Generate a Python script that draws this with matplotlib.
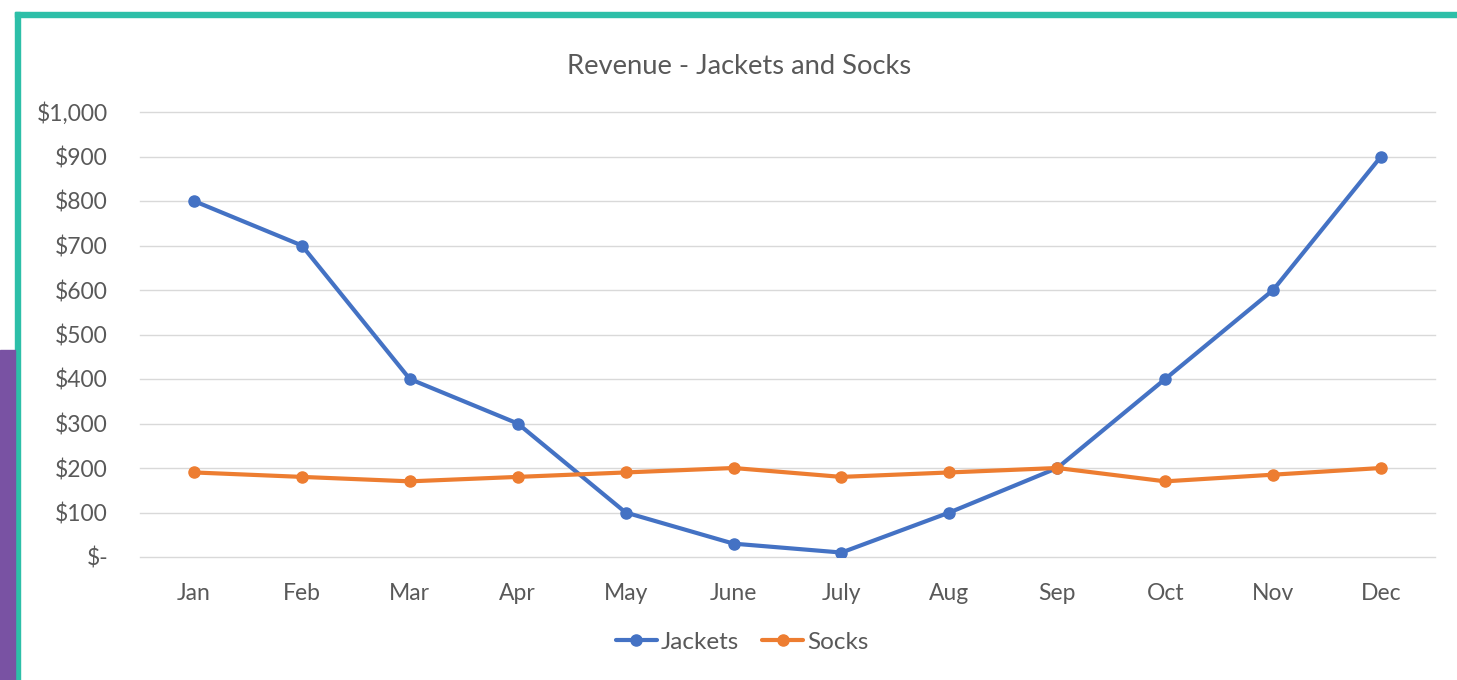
import matplotlib
matplotlib.use("Agg")
import matplotlib.pyplot as plt
from matplotlib.patches import Rectangle
from matplotlib.ticker import FuncFormatter

months = ["Jan", "Feb", "Mar", "Apr", "May", "June", "July", "Aug", "Sep", "Oct", "Nov", "Dec"]
jackets = [800, 700, 400, 300, 100, 30, 10, 100, 200, 400, 600, 900]
socks = [190, 180, 170, 180, 190, 200, 180, 190, 200, 170, 185, 200]
yticks = [0, 100, 200, 300, 400, 500, 600, 700, 800, 900, 1000]

plt.rcParams['font.family'] = ['Lato', 'DejaVu Sans']
W, H = 1457, 680
fig = plt.figure(figsize=(W / 100, H / 100), dpi=100)
fig.patch.set_facecolor("white")

# decorative borders
teal = "#2DBFA8"
purple = "#7952A3"
fig.patches.append(Rectangle((15 / W, 0), 5 / W, (H - 12) / H, transform=fig.transFigure,
                             color=teal, zorder=0))
fig.patches.append(Rectangle((15 / W, (H - 17) / H), (W - 15) / W, 5 / H, transform=fig.transFigure,
                             color=teal, zorder=0))
fig.patches.append(Rectangle((0, 0), 15 / W, (H - 350) / H, transform=fig.transFigure,
                             color=purple, zorder=0))

ax = fig.add_axes([140 / W, (H - 557) / H, (1435 - 140) / W, (557 - 112) / H])
ax.set_facecolor("none")
x = list(range(len(months)))
txt = "#595959"
ax.plot(x, jackets, color="#4472C4", lw=3, marker="o", ms=8, label="Jackets",
        solid_capstyle="round", zorder=3)
ax.plot(x, socks, color="#ED7D31", lw=3, marker="o", ms=8, label="Socks",
        solid_capstyle="round", zorder=3)

ax.set_xlim(-0.5, len(months) - 0.5)
ax.set_ylim(0, 1000)
ax.set_yticks(yticks)
ax.yaxis.set_major_formatter(FuncFormatter(lambda v, p: "$-" if v == 0 else f"${int(v):,}"))
ax.set_xticks(x)
ax.set_xticklabels(months)
ax.grid(axis="y", color="#D9D9D9", lw=1)
for gl in ax.get_ygridlines():
    gl.set_clip_on(False)
ax.set_axisbelow(True)
for s in ax.spines.values():
    s.set_visible(False)
ax.tick_params(axis="both", length=0, colors=txt, labelsize=16.5)
ax.tick_params(axis="y", pad=23)
ax.tick_params(axis="x", pad=19)

fig.text(739 / W, (H - 66) / H, "Revenue - Jackets and Socks", ha="center", va="center",
         fontsize=19.7, color=txt)

leg = fig.legend(loc="center", bbox_to_anchor=(742 / W, (H - 642) / H), ncol=2, frameon=False,
                 fontsize=17.5, handlelength=1.7, handletextpad=0.15, columnspacing=0.95)
for t in leg.get_texts():
    t.set_color(txt)

fig.savefig("out.png", dpi=100)
